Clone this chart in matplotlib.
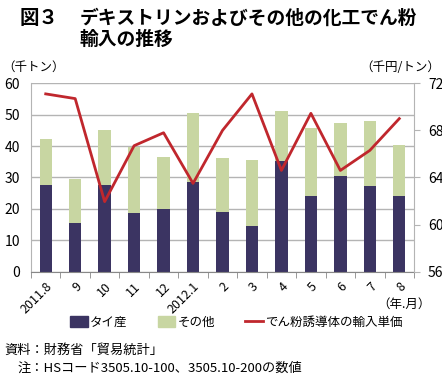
import matplotlib
matplotlib.use("Agg")
import matplotlib.pyplot as plt
from matplotlib.lines import Line2D
from matplotlib.patches import Patch
import numpy as np

plt.rcParams['font.family'] = ['Noto Sans CJK JP', 'DejaVu Sans']

# データ
months = ["2011.8", "9", "10", "11", "12", "2012.1", "2", "3", "4", "5", "6", "7", "8"]
thai = [27.6, 15.5, 27.6, 18.7, 20.1, 28.7, 19.0, 14.5, 35.3, 24.0, 30.4, 27.3, 24.1]
total = [42.4, 29.6, 45.1, 39.6, 36.4, 50.5, 36.2, 35.6, 51.2, 45.8, 47.3, 47.9, 40.3]
other = [t - a for t, a in zip(total, thai)]
price = [71.1, 70.7, 61.95, 66.7, 67.8, 63.5, 68.0, 71.1, 64.6, 69.45, 64.6, 66.3, 69.0]

c_thai = "#3b3462"
c_other = "#c8d6a2"
c_line = "#c0272d"
c_grid = "#b4b4b4"

fig = plt.figure(figsize=(4.42, 3.8), dpi=100)
ax = fig.add_axes([0.0701, 0.285, 0.8666, 0.4958])
x = np.arange(len(months))

ax.bar(x, thai, width=0.42, color=c_thai, zorder=2)
ax.bar(x, other, width=0.42, bottom=thai, color=c_other, zorder=2)
ax.set_xlim(-0.5, len(months) - 0.5)
ax.set_ylim(0, 60)
ax.set_yticks(range(0, 61, 10))
ax.yaxis.grid(True, color=c_grid, lw=1, zorder=0)
ax.set_axisbelow(True)
for s in ["top", "right"]:
    ax.spines[s].set_visible(False)
ax.spines["left"].set_color(c_grid)
ax.spines["bottom"].set_color("#888888")
ax.tick_params(axis="y", length=0, labelsize=10, pad=8)
ax.set_xticks(x)
ax.set_xticklabels(months, rotation=45, ha="right", rotation_mode="anchor", fontsize=9)
ax.tick_params(axis="x", length=0, pad=6)
ax.set_xticks(np.arange(-0.5, len(months), 1), minor=True)
ax.tick_params(axis="x", which="minor", length=4, color="#888888")

ax2 = ax.twinx()
ax2.plot(x, price, color=c_line, lw=2, zorder=3)
ax2.set_ylim(56, 72)
ax2.set_yticks(range(56, 73, 4))
for s in ["top", "left", "bottom"]:
    ax2.spines[s].set_visible(False)
ax2.spines["right"].set_color(c_grid)
ax2.tick_params(axis="y", length=4, color=c_grid, labelsize=10, pad=6)

# タイトル・ラベル
fig.text(0.045, 0.952, "図３", fontsize=14, fontweight="bold", va="center")
fig.text(0.18, 0.952, "デキストリンおよびその他の化工でん粉", fontsize=13.5, fontweight="bold", va="center")
fig.text(0.18, 0.895, "輸入の推移", fontsize=13.5, fontweight="bold", va="center")
fig.text(0.005, 0.822, "（千トン）", fontsize=9, va="center")
fig.text(0.995, 0.822, "（千円/トン）", fontsize=9, va="center", ha="right")
fig.text(0.975, 0.198, "（年.月）", fontsize=9, va="center", ha="right")

handles = [Patch(color=c_thai), Patch(color=c_other), Line2D([], [], color=c_line, lw=2)]
labels = ["タイ産", "その他", "でん粉誘導体の輸入単価"]
fig.legend(handles, labels, loc="center", bbox_to_anchor=(0.535, 0.152), ncol=3, frameon=False,
           fontsize=9, handlelength=1.4, handleheight=0.9, handletextpad=0.2, columnspacing=2.4)

fig.text(0.01, 0.078, "資料：財務省「貿易統計」", fontsize=9.5, va="center")
fig.text(0.04, 0.03, "注：HSコード3505.10-100、3505.10-200の数値", fontsize=9.5, va="center")

fig.savefig("out.png", dpi=100)
